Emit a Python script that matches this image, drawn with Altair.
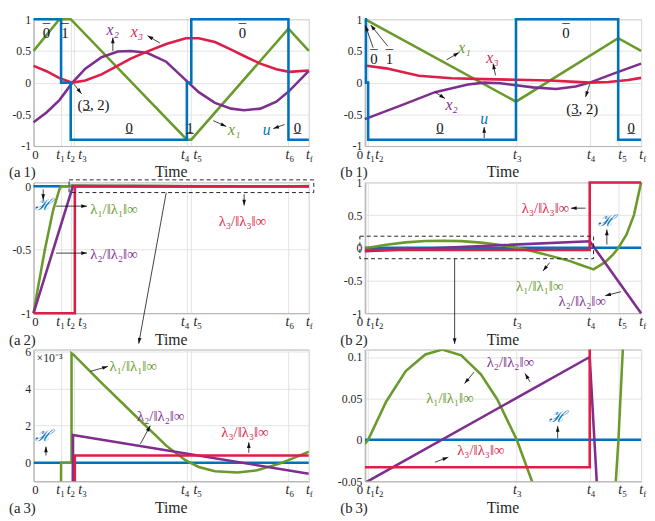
import math
import altair as alt
import pandas as pd

SERIF = "Liberation Serif"
BLUE, GREEN, PURPLE, RED, BLACK = "#0072BD", "#6A9A2C", "#7E2F8E", "#DC1E48", "#111111"
FRAME, GRID, INK = "#b3b3b3", "#e2e2e2", "#262626"
ARROW = "M0,0L0.42,1.3L-0.42,1.3Z"

# ---------------- time ticks (normalised time) ----------------
A_TICKS = [0.0, 0.1, 0.135, 0.145, 0.557, 0.573, 0.926, 1.0]
A_TICK_SUB = ["", "1", "2", "3", "4", "5", "6", "f"]
A_TICK_POS = [0.007, 0.093, 0.131, 0.173, 0.546, 0.591, 0.926, 1.0]
B_TICKS = [0.0, 0.004, 0.012, 0.547, 0.814, 0.917, 1.0]
B_TICK_SUB = ["", "1", "2", "3", "4", "5", "f"]
B_TICK_POS = [-0.018, 0.016, 0.048, 0.547, 0.814, 0.928, 1.004]

# ---------------- (a1) states and control ----------------
A1_U_T = [0, 0.1, 0.1, 0.135, 0.135, 0.557, 0.557, 0.573, 0.573, 0.926, 0.926, 1.0]
A1_U_V = [1, 1, 0, 0, -0.9, -0.9, 0, 0, 1, 1, -0.9, -0.9]
A1_X1_T = [0, 0.094, 0.135, 0.557, 0.573, 0.926, 1.0]
A1_X1_V = [0.5, 1.0, 1.0, -0.9, -0.9, 0.85, 0.5]
A1_S_T = [0, 0.047, 0.094, 0.141, 0.188, 0.247, 0.306, 0.353, 0.412, 0.482,
          0.553, 0.6, 0.659, 0.718, 0.765, 0.824, 0.882, 0.929, 1.0]
A1_X2_V = [-0.625, -0.47, -0.275, 0.0, 0.22, 0.4, 0.49, 0.5, 0.47, 0.33,
           0.04, -0.15, -0.32, -0.41, -0.435, -0.41, -0.3, -0.13, 0.185]
A1_X3_V = [0.265, 0.18, 0.07, 0.0, 0.035, 0.13, 0.27, 0.38, 0.49, 0.61,
           0.7, 0.7, 0.64, 0.52, 0.42, 0.3, 0.21, 0.17, 0.19]

# ---------------- (b1) states and control ----------------
B1_U_T = [0, 0.004, 0.004, 0.012, 0.012, 0.547, 0.547, 0.917, 0.917, 1.0]
B1_U_V = [1, 1, 0, 0, -0.9, -0.9, 1, 1, -0.9, -0.9]
B1_X1_T = [0, 0.547, 0.917, 1.0]
B1_X1_V = [1.0, -0.3, 0.7, 0.5]
B1_X2_T = [0, 0.136, 0.254, 0.373, 0.432, 0.491, 0.609, 0.692, 0.763, 0.814, 0.905, 1.0]
B1_X2_V = [-0.575, -0.35, -0.15, -0.03, 0.0, -0.01, -0.075, -0.1, -0.06, 0.0, 0.15, 0.3]
B1_X3_T = [0, 0.077, 0.195, 0.314, 0.432, 0.55, 0.669, 0.763, 0.814, 0.882, 0.953, 1.0]
B1_X3_V = [0.27, 0.225, 0.11, 0.07, 0.055, 0.045, 0.035, 0.012, 0.0, 0.01, 0.04, 0.075]

# ---------------- (a2)/(a3) costates ----------------
A_H_T = [0, 1.0]
A_H_V = [0, 0]
A_L1_T = [0, 0.012, 0.041, 0.071, 0.094, 0.1, 0.138, 0.138, 0.147, 0.247, 0.365, 0.482,
          0.553, 0.6, 0.659, 0.741, 0.812, 0.894, 0.953, 1.0]
A_L1_V = [-1, -0.848, -0.5, -0.19, -0.025, 0, 0, 0.0059, 0.0058, 0.0043, 0.0026, 0.00092,
          0.00012, -0.00023, -0.00046, -0.00053, -0.00041, -0.00005, 0.0003, 0.0006]
A_L2_T = [0, 0.143, 0.143, 1.0]
A_L2_V = [-1, 0, 0.00149, -0.00059]
A_L3_T = [0, 0.15, 0.15, 1.0]
A_L3_V = [-1, -1, 0.00039, 0.00039]

# ---------------- (b2)/(b3) costates ----------------
B_H_T = [0, 1.0]
B_H_V = [0, 0]
B_L1_T = [0, 0.012, 0.077, 0.148, 0.219, 0.28, 0.349, 0.42, 0.479, 0.55, 0.604, 0.669,
          0.74, 0.787, 0.828, 0.87, 0.899, 0.918, 0.947, 0.974, 1.0]
B_L1_V = [-0.005, 0, 0.046, 0.083, 0.103, 0.109, 0.102, 0.079, 0.049, 0.0, -0.049, -0.12,
          -0.2, -0.27, -0.33, -0.22, -0.1, 0.0, 0.2, 0.5, 1.0]
B_L2_T = [0, 0.814, 1.0]
B_L2_V = [-0.052, 0.1, -1.0]
B_L3_T = [0, 0.814, 0.814, 1.0]
B_L3_V = [-0.033, -0.033, 1.0, 1.0]

LAM1, LAM2, LAM3 = "λ₁/‖λ₁‖∞", "λ₂/‖λ₂‖∞", "λ₃/‖λ₃‖∞"
PAIR = "(3, 2)"

# annotations: (text, t, value, colour, style, align, decoration)
A1_TEXT = [("0", 0.047, 0.78, BLACK, "num", "center", "over"), ("1", 0.114, 0.78, BLACK, "num", "center", "over"),
           ("x₂", 0.288, 0.83, PURPLE, "var", "center", ""), ("x₃", 0.376, 0.8, RED, "var", "center", ""),
           (PAIR, 0.218, -0.35, BLACK, "num", "center", "under3"), ("0", 0.347, -0.72, BLACK, "num", "center", "under"),
           ("1", 0.568, -0.72, BLACK, "num", "center", "under"), ("x₁", 0.729, -0.75, GREEN, "var", "center", ""),
           ("u", 0.847, -0.75, BLUE, "var", "center", ""), ("0", 0.959, -0.72, BLACK, "num", "center", "under"),
           ("0", 0.759, 0.78, BLACK, "num", "center", "over")]
A1_ARROWS = [(0.288, 0.5, 0.288, 0.71), (0.459, 0.625, 0.414, 0.74), (0.147, -0.025, 0.174, -0.175),
             (0.653, -0.6, 0.7, -0.69), (0.912, -0.66, 0.871, -0.725)]
B1_TEXT = [("0", 0.033, 0.37, BLACK, "num", "center", "over"), ("1", 0.089, 0.37, BLACK, "num", "center", "over"),
           ("x₁", 0.361, 0.54, GREEN, "var", "center", ""), ("x₃", 0.462, 0.39, RED, "var", "center", ""),
           ("x₂", 0.314, -0.35, PURPLE, "var", "center", ""), ("u", 0.432, -0.575, BLUE, "var", "center", ""),
           ("0", 0.272, -0.72, BLACK, "num", "center", "under"), ("0", 0.728, 0.78, BLACK, "num", "center", "over"),
           (PAIR, 0.787, -0.425, BLACK, "num", "center", "under3"), ("0", 0.964, -0.72, BLACK, "num", "center", "under")]
B1_ARROWS = [(0.03, 0.55, 0.002, 0.9), (0.083, 0.575, 0.021, 0.91), (0.296, 0.36, 0.341, 0.475),
             (0.473, 0.115, 0.464, 0.3), (0.254, -0.15, 0.29, -0.25), (0.432, -0.875, 0.432, -0.7),
             (0.814, -0.025, 0.799, -0.225)]
A2_TEXT = [("ℋ", 0.035, -0.152, BLUE, "cal", "center", ""), (LAM1, 0.206, -0.177, GREEN, "lam", "left", ""),
           (LAM2, 0.206, -0.532, PURPLE, "lam", "left", ""), (LAM3, 0.759, -0.278, RED, "lam", "center", "")]
A2_ARROWS = [(0.035, -0.025, 0.035, -0.109), (0.082, -0.157, 0.194, -0.157),
             (0.082, -0.527, 0.194, -0.527), (0.765, -0.063, 0.765, -0.152), (0.482, -0.05, 0.382, -1.24)]
A2_BOX = [(0.129, 1.018, -0.05, 0.05)]
A3_TEXT = [(LAM1, 0.276, 0.00519, GREEN, "lam", "left", ""), (LAM2, 0.376, 0.00252, PURPLE, "lam", "left", ""),
           (LAM3, 0.682, 0.00164, RED, "lam", "left", ""), ("ℋ", 0.035, 0.00146, BLUE, "cal", "center", "")]
A3_ARROWS = [(0.206, 0.00492, 0.27, 0.00519), (0.388, 0.00101, 0.424, 0.00199),
             (0.782, 0.00053, 0.782, 0.0011), (0.045, 0.00039, 0.045, 0.00087)]
B2_TEXT = [(LAM3, 0.74, 0.606, RED, "lam", "right", ""), ("ℋ", 0.876, 0.404, BLUE, "cal", "center", ""),
           (LAM1, 0.633, -0.58, GREEN, "lam", "center", ""), (LAM2, 0.787, -0.808, PURPLE, "lam", "center", "")]
B2_ARROWS = [(0.799, 0.606, 0.746, 0.606), (0.876, 0.05, 0.876, 0.278), (0.669, -0.227, 0.645, -0.354),
             (0.927, -0.672, 0.87, -0.732), (0.325, -0.167, 0.325, -1.47)]
B2_BOX = [(-0.018, 0.828, -0.167, 0.177)]
B3_TEXT = [(LAM2, 0.527, 0.094, PURPLE, "lam", "center", ""), (LAM1, 0.308, 0.05, GREEN, "lam", "center", ""),
           ("ℋ", 0.698, 0.028, BLUE, "cal", "center", ""), (LAM3, 0.42, -0.012, RED, "lam", "center", "")]
B3_ARROWS = [(0.598, 0.07, 0.58, 0.08), (0.396, 0.082, 0.361, 0.068),
             (0.698, 0.002, 0.698, 0.0168), (0.254, -0.027, 0.302, -0.021)]

STYLES = {"num": dict(fontSize=15, fontStyle="normal"),
          "var": dict(fontSize=16, fontStyle="italic"),
          "cal": dict(fontSize=16, fontStyle="italic"),
          "lam": dict(fontSize=15, fontStyle="normal")}
DECO = {"over": dict(text="¯", dx=0, dy=-4),
        "under": dict(text="_", dx=0, dy=-1),
        "under3": dict(text="_", dx=-7, dy=-1)}


def line_df(t, v):
    return pd.DataFrame({"t": t, "v": v, "i": list(range(len(t)))})


def panel(W, H, ticks, subs, tpos, ydom, yticks, series, texts, arrows, boxes, tag, clip,
          ylabel="toString(datum.value)", exponent=False):
    xd = [0, 1]
    xs = alt.Scale(domain=xd, nice=False, zero=False)
    ys = alt.Scale(domain=ydom, nice=False, zero=False)
    xaxis = alt.Axis(values=ticks, labels=False, ticks=False, title=None, grid=True,
                     gridColor=GRID, domainColor=FRAME)
    yaxis = alt.Axis(values=yticks, ticks=False, title=None, grid=True, gridColor=GRID,
                     domainColor=FRAME, labelFont=SERIF, labelFontSize=12, labelColor=INK,
                     labelPadding=3, labelExpr=ylabel)

    def X(f):
        return alt.X(f, scale=xs, axis=xaxis)

    def Y(f):
        return alt.Y(f, scale=ys, axis=yaxis)

    layers = []
    for (t, v, col) in series:
        layers.append(alt.Chart(line_df(t, v)).mark_line(color=col, strokeWidth=2.6, clip=clip).encode(
            x=X("t:Q"), y=Y("v:Q"), order="i:Q"))
    for (x1, x2, y1, y2) in boxes:
        bdf = pd.DataFrame({"x1": [x1], "x2": [x2], "y1": [y1], "y2": [y2]})
        layers.append(alt.Chart(bdf).mark_rect(fillOpacity=0, stroke="#222", strokeWidth=1,
                                               strokeDash=[4, 3]).encode(
            x=X("x1:Q"), x2="x2:Q", y=Y("y1:Q"), y2="y2:Q"))
    rows = []
    for (t1, v1, t2, v2) in arrows:
        dx = (t2 - t1) / (xd[1] - xd[0]) * W
        dy = -(v2 - v1) / (ydom[1] - ydom[0]) * H
        rows.append(dict(t1=t1, v1=v1, t2=t2, v2=v2, ang=math.degrees(math.atan2(dx, -dy)) % 360))
    adf = pd.DataFrame(rows)
    layers.append(alt.Chart(adf).mark_rule(color="#111", strokeWidth=0.8).encode(
        x=X("t1:Q"), y=Y("v1:Q"), x2="t2:Q", y2="v2:Q"))
    layers.append(alt.Chart(adf).mark_point(shape=ARROW, filled=True, size=80, color="#111",
                                            opacity=1, strokeWidth=0).encode(
        x=X("t2:Q"), y=Y("v2:Q"), angle=alt.Angle("ang:Q", scale=None)))
    tdf = pd.DataFrame(texts, columns=["s", "t", "v", "c", "style", "align", "deco"])
    for (st, al), g in tdf.groupby(["style", "align"]):
        layers.append(alt.Chart(g).mark_text(font=SERIF, align=al, baseline="middle",
                                             **STYLES[st]).encode(
            x=X("t:Q"), y=Y("v:Q"), text="s:N", color=alt.Color("c:N", scale=None)))
    for dk, g in tdf[tdf["deco"] != ""].groupby("deco"):
        layers.append(alt.Chart(g).mark_text(font=SERIF, fontSize=15, align="center", baseline="middle",
                                             **DECO[dk]).encode(
            x=X("t:Q"), y=Y("v:Q"), color=alt.Color("c:N", scale=None)))
    # time tick labels
    kdf = pd.DataFrame({"p": tpos, "sub": subs})
    zero = kdf[kdf["sub"] == ""]
    rest = kdf[kdf["sub"] != ""]
    layers.append(alt.Chart(zero).mark_text(font=SERIF, fontSize=13, color=INK, align="center",
                                            baseline="top", text="0").encode(
        x=X("p:Q"), y=alt.value(H + 3)))
    layers.append(alt.Chart(rest).mark_text(font=SERIF, fontSize=14, fontStyle="italic", color=INK,
                                            align="right", baseline="top", text="t", dx=1).encode(
        x=X("p:Q"), y=alt.value(H + 2)))
    layers.append(alt.Chart(rest).mark_text(font=SERIF, fontSize=9, color=INK, align="left",
                                            baseline="top", dx=1, dy=7).encode(
        x=X("p:Q"), y=alt.value(H + 2), text="sub:N"))
    ldf = pd.DataFrame({"s": [tag]})
    layers.append(alt.Chart(ldf).mark_text(font=SERIF, fontSize=15, color=INK, align="left",
                                           baseline="middle").encode(
        x=alt.value(-25), y=alt.value(H + 27), text="s:N"))
    layers.append(alt.Chart(ldf).mark_text(font=SERIF, fontSize=16, color=INK, align="center",
                                           baseline="middle", text="Time").encode(
        x=alt.value(W / 2), y=alt.value(H + 27)))
    if exponent:
        layers.append(alt.Chart(ldf).mark_text(font=SERIF, fontSize=12, color=INK, align="left",
                                               baseline="middle", text="×10⁻³").encode(
            x=alt.value(3), y=alt.value(9)))
    return alt.layer(*layers).properties(width=W, height=H)


WA, WB = 280, 281
H1, H2, H3 = 129, 133, 134
TICKS1 = [-1, -0.5, 0, 0.5, 1]

a1 = panel(WA, H1, A_TICKS, A_TICK_SUB, A_TICK_POS, [-1, 1], TICKS1,
           [(A1_X1_T, A1_X1_V, GREEN), (A1_S_T, A1_X2_V, PURPLE), (A1_S_T, A1_X3_V, RED),
            (A1_U_T, A1_U_V, BLUE)], A1_TEXT, A1_ARROWS, [], "(a\u20091)", False)
b1 = panel(WB, H1, B_TICKS, B_TICK_SUB, B_TICK_POS, [-1, 1], TICKS1,
           [(B1_X1_T, B1_X1_V, GREEN), (B1_X2_T, B1_X2_V, PURPLE), (B1_X3_T, B1_X3_V, RED),
            (B1_U_T, B1_U_V, BLUE)], B1_TEXT, B1_ARROWS, [], "(b\u20091)", False)
A_SERIES = [(A_H_T, A_H_V, BLUE), (A_L1_T, A_L1_V, GREEN), (A_L2_T, A_L2_V, PURPLE),
            (A_L3_T, A_L3_V, RED)]
B_SERIES = [(B_H_T, B_H_V, BLUE), (B_L1_T, B_L1_V, GREEN), (B_L2_T, B_L2_V, PURPLE),
            (B_L3_T, B_L3_V, RED)]
a2 = panel(WA, H2, A_TICKS, A_TICK_SUB, A_TICK_POS, [-1, 0.03], [-1, -0.5, 0], A_SERIES,
           A2_TEXT, A2_ARROWS, A2_BOX, "(a\u20092)", False)
b2 = panel(WB, H2, B_TICKS, B_TICK_SUB, B_TICK_POS, [-1, 1], TICKS1, B_SERIES,
           B2_TEXT, B2_ARROWS, B2_BOX, "(b\u20092)", False)
a3 = panel(WA, H3, A_TICKS, A_TICK_SUB, A_TICK_POS, [-0.001, 0.0061], [0, 0.002, 0.004, 0.006],
           A_SERIES, A3_TEXT, A3_ARROWS, [], "(a\u20093)", True,
           ylabel="format(datum.value*1000, 'd')", exponent=True)
b3 = panel(WB, H3, B_TICKS, B_TICK_SUB, B_TICK_POS, [-0.05, 0.109], [-0.05, 0, 0.05, 0.1],
           B_SERIES, B3_TEXT, B3_ARROWS, [], "(b\u20093)", True)

chart = alt.concat(
    a1, b1, a2, b2, a3, b3, columns=2,
    spacing={"row": 37, "column": 57}, bounds="flush",
).properties(padding=0).configure_view(stroke=FRAME, strokeWidth=1)

chart.save("out.html", embed_options={"renderer": "svg", "actions": False})
